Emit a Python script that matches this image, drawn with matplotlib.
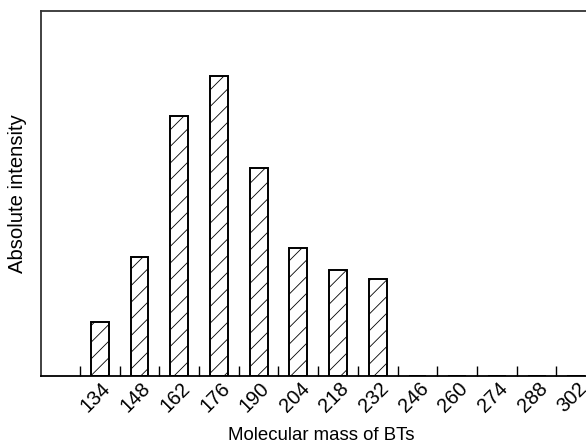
import numpy as np
import matplotlib.pyplot as plt
import matplotlib.transforms as mtransforms

plt.rcParams['font.family'] = ['Liberation Sans', 'DejaVu Sans']
plt.rcParams['hatch.linewidth'] = 0.6

masses = ['134', '148', '162', '176', '190', '204', '218', '232',
          '246', '260', '274', '288', '302']
intensity = [54, 119, 260, 300, 208, 128, 106, 97, 0, 0, 0, 0, 0]

W, H = 586, 443
fig = plt.figure(figsize=(W / 100, H / 100), dpi=100)
ax = fig.add_axes([41 / W, (H - 376) / H, 575 / W, 365 / H])

x = np.arange(len(masses))
ax.bar(x, intensity, width=0.45, facecolor='white', edgecolor='black',
       linewidth=1.4, hatch='//')

ax.set_xlim(-1.48, 13.0)
ax.set_ylim(0, 365)
ax.set_yticks([])
ax.set_xticks(x)
ax.set_xticklabels(masses, rotation=45, ha='right', va='center',
                   rotation_mode='anchor', fontsize=14.4)
ax.tick_params(axis='x', which='major', length=0, pad=7)
ax.set_xticks(np.arange(-0.5, 12, 1), minor=True)
ax.tick_params(axis='x', which='minor', direction='in', length=7, width=1.0)

for s in ax.spines.values():
    s.set_linewidth(1.3)
    s.set_color('#333333')
ax.spines['bottom'].set_color('black')

# shift tick labels slightly to the right
offset = mtransforms.ScaledTranslation(8 / 100, 0, fig.dpi_scale_trans)
for lab in ax.get_xticklabels():
    lab.set_transform(lab.get_transform() + offset)

ax.set_xlabel('Molecular mass of BTs', fontsize=13.4)
ax.set_ylabel('Absolute intensity', fontsize=14.6, labelpad=10)
ax.xaxis.set_label_coords((321 - 41) / 575, -(427 - 376) / 365)

fig.savefig('out.png', dpi=100)
